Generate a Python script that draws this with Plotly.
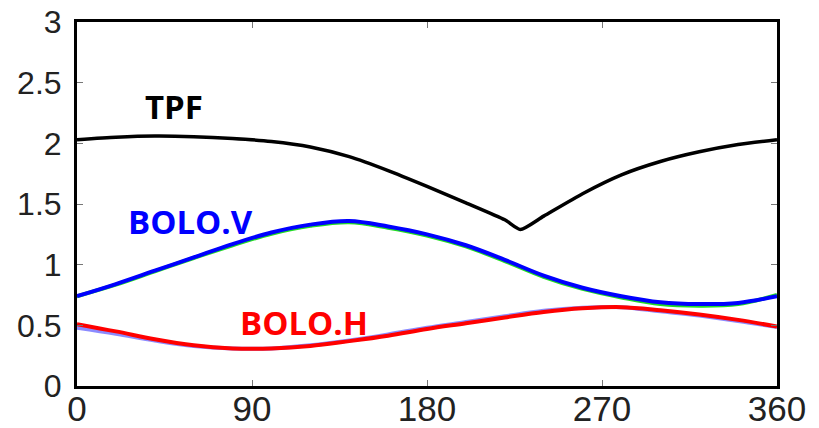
import plotly.graph_objects as go

# angle (deg)
angle_tpf = [0, 20, 40, 60, 80, 100, 120, 140, 160, 180, 200, 220, 228, 240, 260, 280, 300, 320, 340, 360]
tpf = [2.03, 2.05, 2.06, 2.055, 2.04, 2.015, 1.97, 1.89, 1.775, 1.645, 1.51, 1.37, 1.29, 1.40, 1.585, 1.74, 1.85, 1.93, 1.99, 2.03]

angle = [0, 20, 40, 60, 80, 100, 120, 140, 160, 180, 200, 220, 240, 260, 280, 300, 320, 340, 360]
bolo_v = [0.74, 0.84, 0.95, 1.06, 1.17, 1.265, 1.33, 1.36, 1.315, 1.25, 1.16, 1.04, 0.91, 0.81, 0.74, 0.69, 0.675, 0.685, 0.74]
bolo_v_ref = [0.74, 0.835, 0.945, 1.055, 1.16, 1.255, 1.32, 1.35, 1.305, 1.24, 1.15, 1.03, 0.90, 0.80, 0.73, 0.675, 0.662, 0.675, 0.75]
bolo_h = [0.51, 0.45, 0.385, 0.335, 0.31, 0.31, 0.33, 0.37, 0.415, 0.47, 0.517, 0.565, 0.61, 0.64, 0.65, 0.625, 0.59, 0.545, 0.49]
bolo_h_ref = [0.48, 0.43, 0.375, 0.33, 0.31, 0.31, 0.335, 0.375, 0.425, 0.48, 0.527, 0.575, 0.62, 0.645, 0.65, 0.615, 0.58, 0.535, 0.485]

x_ticks = [0, 90, 180, 270, 360]
y_ticks = [0, 0.5, 1, 1.5, 2, 2.5, 3]
y_tick_text = ["0", "0.5", "1", "1.5", "2", "2.5", "3"]

fig = go.Figure()
fig.add_trace(go.Scatter(x=angle, y=bolo_v_ref, mode="lines", line=dict(color="#22dd22", width=4, shape="spline", smoothing=1)))
fig.add_trace(go.Scatter(x=angle, y=bolo_v, mode="lines", line=dict(color="#0000ff", width=4, shape="spline", smoothing=1)))
fig.add_trace(go.Scatter(x=angle, y=bolo_h_ref, mode="lines", line=dict(color="rgba(90,90,255,0.7)", width=4, shape="spline", smoothing=1)))
fig.add_trace(go.Scatter(x=angle, y=bolo_h, mode="lines", line=dict(color="#ff0000", width=4, shape="spline", smoothing=1)))
fig.add_trace(go.Scatter(x=angle_tpf, y=tpf, mode="lines", line=dict(color="#000000", width=3.5, shape="spline", smoothing=0.6)))

lab_font = "Open Sans, Arial, sans-serif"
fig.add_annotation(x=50, y=2.30, text="<b>TPF</b>", showarrow=False, font=dict(family=lab_font, size=33, color="#000000"))
fig.add_annotation(x=58.6, y=1.356, text="<b>BOLO.V</b>", showarrow=False, font=dict(family=lab_font, size=33, color="#0000ff"))
fig.add_annotation(x=116.8, y=0.527, text="<b>BOLO.H</b>", showarrow=False, font=dict(family=lab_font, size=33, color="#ff0000"))

axis_common = dict(showgrid=False, zeroline=False, showline=True, linecolor="#000000", linewidth=3,
                   mirror="ticks", ticks="inside", ticklen=6, tickwidth=1, tickcolor="#777777",
                   automargin=False)
fig.update_xaxes(range=[0, 360], tickvals=x_ticks, ticklabelstandoff=-10,
                 tickfont=dict(family="Liberation Sans, Arial", size=35, color="#222222"), **axis_common)
fig.update_yaxes(range=[0, 3], tickvals=y_ticks, ticktext=y_tick_text, ticklabelstandoff=6,
                 tickfont=dict(family="Liberation Sans, Arial", size=32, color="#222222"), **axis_common)

fig.update_layout(width=819, height=428, margin=dict(l=77, r=42, t=22, b=42),
                  plot_bgcolor="white", paper_bgcolor="white", showlegend=False)
fig.write_html("out.html")
